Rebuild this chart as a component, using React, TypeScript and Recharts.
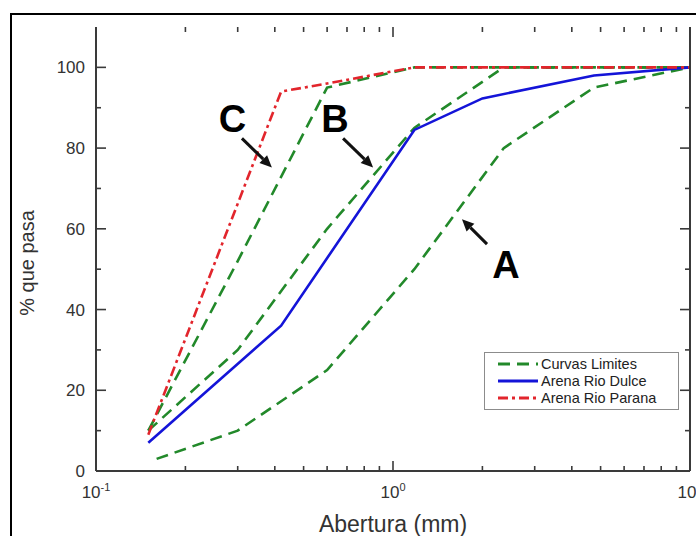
import React from 'react';
import { LineChart, Line, XAxis, YAxis, Legend, ReferenceLine, ReferenceDot } from 'recharts';

// Sieve openings (mm) and % passing for each grading curve
const limitAOpening = [0.16, 0.3, 0.6, 1.18, 2.36, 4.75, 10];
const limitAPassing = [3, 10, 25, 50, 80, 95, 100];

const limitBOpening = [0.15, 0.3, 0.6, 1.18, 2.36, 10];
const limitBPassing = [10, 30, 60, 85, 100, 100];

const limitCOpening = [0.15, 0.3, 0.6, 1.18, 10];
const limitCPassing = [10, 52, 95, 100, 100];

const dulceOpening = [0.15, 0.42, 1.18, 2.0, 4.75, 10];
const dulcePassing = [7, 36, 84.5, 92.3, 98, 100];

const paranaOpening = [0.15, 0.42, 0.6, 1.18, 10];
const paranaPassing = [9, 94, 96, 100, 100];

const xTicks = [0.1, 0.2, 0.3, 0.4, 0.5, 0.6, 0.7, 0.8, 0.9, 1, 2, 3, 4, 5, 6, 7, 8, 9, 10];
const xMajor: Record<number, string> = { 0.1: '-1', 1: '0', 10: '1' };
const yTicks = [0, 10, 20, 30, 40, 50, 60, 70, 80, 90, 100];

// curve letters and their arrows, in axis units
const letters = [
  { text: 'C', x: 0.288, y: 87.3 },
  { text: 'B', x: 0.638, y: 87.3 },
  { text: 'A', x: 2.4, y: 51 },
];
const arrows = [
  [{ x: 0.31, y: 82.4 }, { x: 0.391, y: 75.2 }],
  [{ x: 0.679, y: 82.4 }, { x: 0.857, y: 75.2 }],
  [{ x: 2.073, y: 56.2 }, { x: 1.707, y: 62.4 }],
];

const zip = (xs: number[], ys: number[]) => xs.map((x, i) => ({ x, y: ys[i] }));

const GREEN = '#22892a';
const BLUE = '#1414d8';
const RED = '#e2252c';
const AXIS = '#3a3a3a';
const GREEN_DASH = '12 7';
const RED_DASH = '10 4 3 4';

const series = [
  { key: 'a', name: 'Curvas Limites', data: zip(limitAOpening, limitAPassing), color: GREEN, dash: GREEN_DASH, legend: true },
  { key: 'b', name: 'Curvas Limites', data: zip(limitBOpening, limitBPassing), color: GREEN, dash: GREEN_DASH, legend: false },
  { key: 'c', name: 'Curvas Limites', data: zip(limitCOpening, limitCPassing), color: GREEN, dash: GREEN_DASH, legend: false },
  { key: 'dulce', name: 'Arena Rio Dulce', data: zip(dulceOpening, dulcePassing), color: BLUE, dash: undefined, legend: true },
  { key: 'parana', name: 'Arena Rio Parana', data: zip(paranaOpening, paranaPassing), color: RED, dash: RED_DASH, legend: true },
];

const tickMark = (x: number, y: number, dx: number, dy: number) => (
  <path d={`M${x},${y}L${x + dx},${y + dy}`} stroke={AXIS} strokeWidth={1.6} fill="none" />
);

// inward tick marks on the bottom and top frame edges
const xTickShape = (major: boolean) => (p: any) => {
  const top = Math.min(p.y1, p.y2);
  const bottom = Math.max(p.y1, p.y2);
  const len = major ? 10 : 5;
  return (
    <g>
      {tickMark(p.x1, bottom, 0, -len)}
      {tickMark(p.x1, top, 0, len)}
    </g>
  );
};

// inward tick marks on the left and right frame edges
const yTickShape = (major: boolean) => (p: any) => {
  const left = Math.min(p.x1, p.x2);
  const right = Math.max(p.x1, p.x2);
  const len = major ? 10 : 5;
  return (
    <g>
      {tickMark(left, p.y1, len, 0)}
      {tickMark(right, p.y1, -len, 0)}
    </g>
  );
};

const BottomTick = (props: any) => {
  const { x, y, payload } = props;
  const exp = xMajor[payload.value];
  if (!exp) return <g />;
  return (
    <text x={x} y={y + 27} textAnchor="middle" fontSize={17} fill="#333">
      10<tspan dy={-7} fontSize={11}>{exp}</tspan>
    </text>
  );
};

const LeftTick = (props: any) => {
  const { x, y, payload } = props;
  if (payload.value % 20 !== 0) return <g />;
  return (
    <text x={x - 11} y={y} dy={6} textAnchor="end" fontSize={17} fill="#333">
      {payload.value}
    </text>
  );
};

const Arrow = (p: any) => {
  const { x1, y1, x2, y2 } = p;
  const a = Math.atan2(y2 - y1, x2 - x1);
  const len = 12;
  const half = 5.5;
  const bx = x2 - len * Math.cos(a);
  const by = y2 - len * Math.sin(a);
  const nx = -Math.sin(a) * half;
  const ny = Math.cos(a) * half;
  return (
    <g>
      <line x1={x1} y1={y1} x2={bx} y2={by} stroke="#111" strokeWidth={3} />
      <polygon points={`${x2},${y2} ${bx + nx},${by + ny} ${bx - nx},${by - ny}`} fill="#111" />
    </g>
  );
};

const LegendBox = () => (
  <div
    style={{
      width: 195,
      height: 58,
      boxSizing: 'border-box',
      border: '1px solid #8c8c8c',
      background: '#fff',
      padding: '2px 0 0 13px',
      fontSize: 14.5,
      color: '#222',
    }}
  >
    {series.filter(s => s.legend).map(s => (
      <div key={s.key} style={{ display: 'flex', alignItems: 'center', height: 17 }}>
        <svg width={42} height={6} style={{ marginRight: 1 }}>
          <line x1={0} y1={3} x2={40} y2={3} stroke={s.color} strokeWidth={3} strokeDasharray={s.dash} />
        </svg>
        <span>{s.name}</span>
      </div>
    ))}
  </div>
);

export default function App() {
  return (
    <div
      style={{
        position: 'absolute',
        left: 0,
        top: 0,
        width: 696,
        height: 536,
        overflow: 'hidden',
        background: '#fff',
        fontFamily: '"Liberation Sans", Arial, sans-serif',
      }}
    >
      <div style={{ position: 'absolute', left: 10, top: 13, width: 800, height: 800, border: '2px solid #000' }} />
      <LineChart width={696} height={536} margin={{ top: 27, right: 0, bottom: 0, left: 0 }} style={{ position: 'absolute', left: 0, top: 0 }}>
        <XAxis
          xAxisId="bottom"
          dataKey="x"
          type="number"
          scale="log"
          domain={[0.1, 10]}
          allowDataOverflow
          ticks={xTicks}
          interval={0}
          tickSize={0}
          tickMargin={0}
          tickLine={false}
          tick={<BottomTick />}
          axisLine={{ stroke: AXIS, strokeWidth: 2 }}
          height={65}
          label={{
            content: ({ viewBox }: any) => (
              <text x={viewBox.x + viewBox.width / 2} y={viewBox.y + viewBox.height - 4} textAnchor="middle" fontSize={23} fill="#333">
                Abertura (mm)
              </text>
            ),
          }}
        />
        <XAxis
          xAxisId="top"
          orientation="top"
          type="number"
          scale="log"
          domain={[0.1, 10]}
          allowDataOverflow
          tick={false}
          tickLine={false}
          axisLine={{ stroke: AXIS, strokeWidth: 2 }}
          height={0}
        />
        <YAxis
          yAxisId="left"
          type="number"
          domain={[0, 110]}
          allowDataOverflow
          ticks={yTicks}
          interval={0}
          tickSize={0}
          tickMargin={0}
          tickLine={false}
          tick={<LeftTick />}
          axisLine={{ stroke: AXIS, strokeWidth: 2 }}
          width={96}
          label={{
            content: ({ viewBox }: any) => {
              const cx = viewBox.x + 27;
              const cy = viewBox.y + viewBox.height / 2 + 14;
              return (
                <text x={cx} y={cy} transform={`rotate(-90 ${cx} ${cy})`} dy={7} textAnchor="middle" fontSize={20} fill="#333">
                  % que pasa
                </text>
              );
            },
          }}
        />
        <YAxis
          yAxisId="right"
          orientation="right"
          type="number"
          domain={[0, 110]}
          allowDataOverflow
          tick={false}
          tickLine={false}
          axisLine={{ stroke: AXIS, strokeWidth: 2 }}
          width={6}
        />
        {xTicks.map(v => (
          <ReferenceLine key={`xt-${v}`} xAxisId="bottom" yAxisId="left" x={v} shape={xTickShape(!!xMajor[v])} />
        ))}
        {yTicks.map(v => (
          <ReferenceLine key={`yt-${v}`} xAxisId="bottom" yAxisId="left" y={v} shape={yTickShape(v % 20 === 0)} />
        ))}
        {series.map(s => (
          <Line
            key={s.key}
            xAxisId="bottom"
            yAxisId="left"
            data={s.data}
            dataKey="y"
            name={s.name}
            type="linear"
            stroke={s.color}
            strokeWidth={2.6}
            strokeDasharray={s.dash}
            dot={false}
            activeDot={false}
            legendType={s.legend ? 'line' : 'none'}
            isAnimationActive={false}
          />
        ))}
        {arrows.map((seg, i) => (
          <ReferenceLine key={`arrow-${i}`} xAxisId="bottom" yAxisId="left" segment={seg} shape={Arrow} />
        ))}
        {letters.map(l => (
          <ReferenceDot
            key={l.text}
            xAxisId="bottom"
            yAxisId="left"
            x={l.x}
            y={l.y}
            r={0}
            shape={(p: any) => (
              <text x={p.cx} y={p.cy} dy={13} textAnchor="middle" fontSize={38} fontWeight="bold" fill="#000">
                {l.text}
              </text>
            )}
          />
        ))}
        <Legend
          layout="vertical"
          align="center"
          verticalAlign="middle"
          content={<LegendBox />}
          wrapperStyle={{ left: 484, top: 352, width: 195 }}
        />
      </LineChart>
    </div>
  );
}
